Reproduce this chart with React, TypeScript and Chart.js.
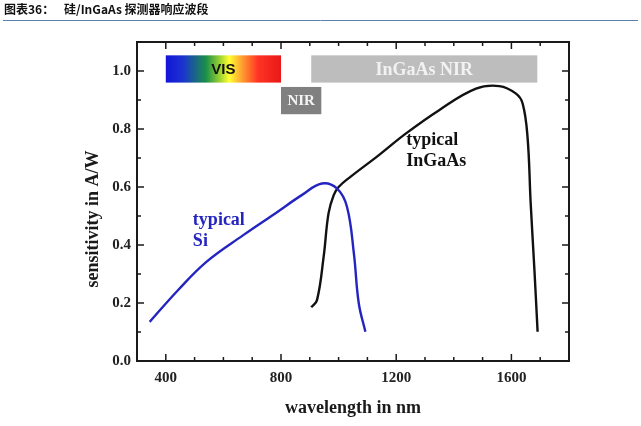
import React, { useEffect, useRef } from "react";
import { Chart, registerables } from "chart.js";

Chart.register(...registerables);

// ---- data ----
const headerLabel = "图表36：";
const headerText = "硅/InGaAs 探测器响应波段";
const xAxisTitle = "wavelength in nm";
const yAxisTitle = "sensitivity in A/W";

const xMajorTicks = [400, 800, 1200, 1600];
const xMinorTicks = [300, 500, 600, 700, 900, 1000, 1100, 1300, 1400, 1500, 1700, 1800];
const yMajorTicks = [0, 0.2, 0.4, 0.6, 0.8, 1.0];
const yMinorTicks = [0.1, 0.3, 0.5, 0.7, 0.9, 1.1];

const siWavelength = [344, 443, 541, 669, 780, 872, 942, 994, 1029, 1053, 1070, 1093];
const siSensitivity = [0.135, 0.245, 0.342, 0.434, 0.509, 0.572, 0.612, 0.595, 0.532, 0.371, 0.199, 0.101];

const ingaasWavelength = [905, 925, 948, 965, 983, 1000, 1041, 1140, 1233, 1349, 1477, 1558, 1616, 1639, 1656, 1667, 1680, 1691];
const ingaasSensitivity = [0.185, 0.21, 0.359, 0.509, 0.572, 0.6, 0.635, 0.71, 0.784, 0.865, 0.939, 0.948, 0.922, 0.888, 0.773, 0.543, 0.313, 0.101];

const bandNames = ["VIS", "NIR", "InGaAs NIR"];
const bandStart = [400, 800, 905];
const bandEnd = [800, 940, 1690];
const bandTop = [1.054, 0.945, 1.054];
const bandBottom = [0.96, 0.851, 0.96];

const siLabel = ["typical", "Si"];
const ingaasLabel = ["typical", "InGaAs"];

const SERIF = "'Liberation Serif', 'Times New Roman', serif";

const overlayPlugin = {
  id: "overlay",
  beforeDatasetsDraw(chart: any) {
    const { ctx, scales } = chart;
    const x = scales.x;
    const y = scales.y;
    ctx.save();
    // bands
    bandNames.forEach((name, i) => {
      const x0 = x.getPixelForValue(bandStart[i]);
      const x1 = x.getPixelForValue(bandEnd[i]);
      const y0 = y.getPixelForValue(bandTop[i]);
      const y1 = y.getPixelForValue(bandBottom[i]);
      if (name === "VIS") {
        const g = ctx.createLinearGradient(x0, 0, x1, 0);
        g.addColorStop(0, "#1414d8");
        g.addColorStop(0.15, "#1a34d0");
        g.addColorStop(0.35, "#1a9048");
        g.addColorStop(0.48, "#a8d830");
        g.addColorStop(0.55, "#ffff30");
        g.addColorStop(0.66, "#ffa030");
        g.addColorStop(0.8, "#ff3424");
        g.addColorStop(1, "#e81818");
        ctx.fillStyle = g;
      } else if (name === "NIR") {
        ctx.fillStyle = "#808080";
      } else {
        ctx.fillStyle = "#bdbdbd";
      }
      ctx.fillRect(x0, y0, x1 - x0, y1 - y0);
      const cx = (x0 + x1) / 2;
      const cy = (y0 + y1) / 2 + 1;
      ctx.textAlign = "center";
      ctx.textBaseline = "middle";
      if (name === "VIS") {
        ctx.fillStyle = "#111";
        ctx.font = "bold 15px 'Liberation Sans', Arial, sans-serif";
      } else if (name === "NIR") {
        ctx.fillStyle = "#f4f4f4";
        ctx.font = `bold 15px ${SERIF}`;
      } else {
        ctx.fillStyle = "#f2f2f2";
        ctx.font = `bold 18px ${SERIF}`;
      }
      ctx.fillText(name, cx, cy);
    });
    ctx.restore();
  },
  afterDraw(chart: any) {
    const { ctx, scales, chartArea } = chart;
    const x = scales.x;
    const y = scales.y;
    const { left, right, top, bottom } = chartArea;
    ctx.save();
    // header
    ctx.fillStyle = "#111";
    ctx.textBaseline = "alphabetic";
    ctx.textAlign = "left";
    ctx.font = "bold 12px 'Noto Sans CJK SC', sans-serif";
    ctx.fillText(headerLabel, 4, 14);
    ctx.fillText(headerText, 64, 14);
    ctx.strokeStyle = "#5b7fae";
    ctx.lineWidth = 1;
    ctx.beginPath();
    ctx.moveTo(3, 20.5);
    ctx.lineTo(638, 20.5);
    ctx.stroke();

    // frame
    ctx.strokeStyle = "#1a1a1a";
    ctx.lineWidth = 2;
    ctx.strokeRect(left, top, right - left, bottom - top);
    // ticks
    ctx.lineWidth = 1.5;
    const drawX = (v: number, len: number) => {
      const px = x.getPixelForValue(v);
      ctx.beginPath();
      ctx.moveTo(px, bottom);
      ctx.lineTo(px, bottom - len);
      ctx.moveTo(px, top);
      ctx.lineTo(px, top + len);
      ctx.stroke();
    };
    const drawY = (v: number, len: number) => {
      const py = y.getPixelForValue(v);
      ctx.beginPath();
      ctx.moveTo(left, py);
      ctx.lineTo(left + len, py);
      ctx.moveTo(right, py);
      ctx.lineTo(right - len, py);
      ctx.stroke();
    };
    xMajorTicks.forEach((v) => drawX(v, 7));
    xMinorTicks.forEach((v) => drawX(v, 4));
    yMajorTicks.forEach((v) => drawY(v, 7));
    yMinorTicks.forEach((v) => drawY(v, 4));

    // axis titles
    ctx.fillStyle = "#1a1a1a";
    ctx.font = `bold 18px ${SERIF}`;
    ctx.textAlign = "center";
    ctx.textBaseline = "middle";
    ctx.fillText(xAxisTitle, (left + right) / 2, 408);
    ctx.save();
    ctx.translate(93, 219);
    ctx.rotate(-Math.PI / 2);
    ctx.fillText(yAxisTitle, 0, 0);
    ctx.restore();

    // curve annotations
    ctx.textAlign = "left";
    ctx.font = `bold 18px ${SERIF}`;
    ctx.fillStyle = "#2424c0";
    ctx.fillText(siLabel[0], x.getPixelForValue(494), y.getPixelForValue(0.486));
    ctx.fillText(siLabel[1], x.getPixelForValue(494), y.getPixelForValue(0.411));
    ctx.fillStyle = "#111";
    ctx.fillText(ingaasLabel[0], x.getPixelForValue(1235), y.getPixelForValue(0.762));
    ctx.fillText(ingaasLabel[1], x.getPixelForValue(1235), y.getPixelForValue(0.687));
    ctx.restore();
  },
};

export default function App() {
  const ref = useRef<HTMLCanvasElement | null>(null);
  useEffect(() => {
    if (!ref.current) return;
    const chart = new Chart(ref.current, {
      type: "line",
      data: {
        datasets: [
          {
            label: "Si",
            data: siWavelength.map((w, i) => ({ x: w, y: siSensitivity[i] })),
            borderColor: "#2424c0",
            borderWidth: 2.4,
            pointRadius: 0,
            tension: 0.4,
            fill: false,
          },
          {
            label: "InGaAs",
            data: ingaasWavelength.map((w, i) => ({ x: w, y: ingaasSensitivity[i] })),
            borderColor: "#111111",
            borderWidth: 2.4,
            pointRadius: 0,
            tension: 0.4,
            fill: false,
          },
        ],
      },
      options: {
        animation: false,
        responsive: false,
        devicePixelRatio: 1,
        layout: { padding: { top: 42, right: 72, left: 0, bottom: 0 } },
        plugins: { legend: { display: false }, tooltip: { enabled: false }, title: { display: false } },
        scales: {
          x: {
            type: "linear",
            min: 300,
            max: 1800,
            grid: { display: false, drawTicks: false },
            border: { display: false },
            afterBuildTicks: (s: any) => {
              s.ticks = xMajorTicks.map((v) => ({ value: v }));
            },
            afterFit: (s: any) => {
              s.height = 65;
            },
            ticks: {
              padding: 8,
              color: "#222",
              font: { family: SERIF, size: 15, weight: "bold" },
              callback: (v: any) => String(v),
            },
          },
          y: {
            type: "linear",
            min: 0,
            max: 1.1,
            grid: { display: false, drawTicks: false },
            border: { display: false },
            afterBuildTicks: (s: any) => {
              s.ticks = yMajorTicks.map((v) => ({ value: v }));
            },
            afterFit: (s: any) => {
              s.width = 137;
            },
            ticks: {
              padding: 6,
              color: "#222",
              font: { family: SERIF, size: 15, weight: "bold" },
              callback: (v: any) => Number(v).toFixed(1),
            },
          },
        },
      },
      plugins: [overlayPlugin],
    } as any);
    return () => chart.destroy();
  }, []);
  return (
    <div style={{ position: "fixed", left: 0, top: 0, width: 641, height: 426, background: "#fff" }}>
      <canvas ref={ref} width={641} height={426} style={{ width: 641, height: 426, display: "block" }} />
    </div>
  );
}
